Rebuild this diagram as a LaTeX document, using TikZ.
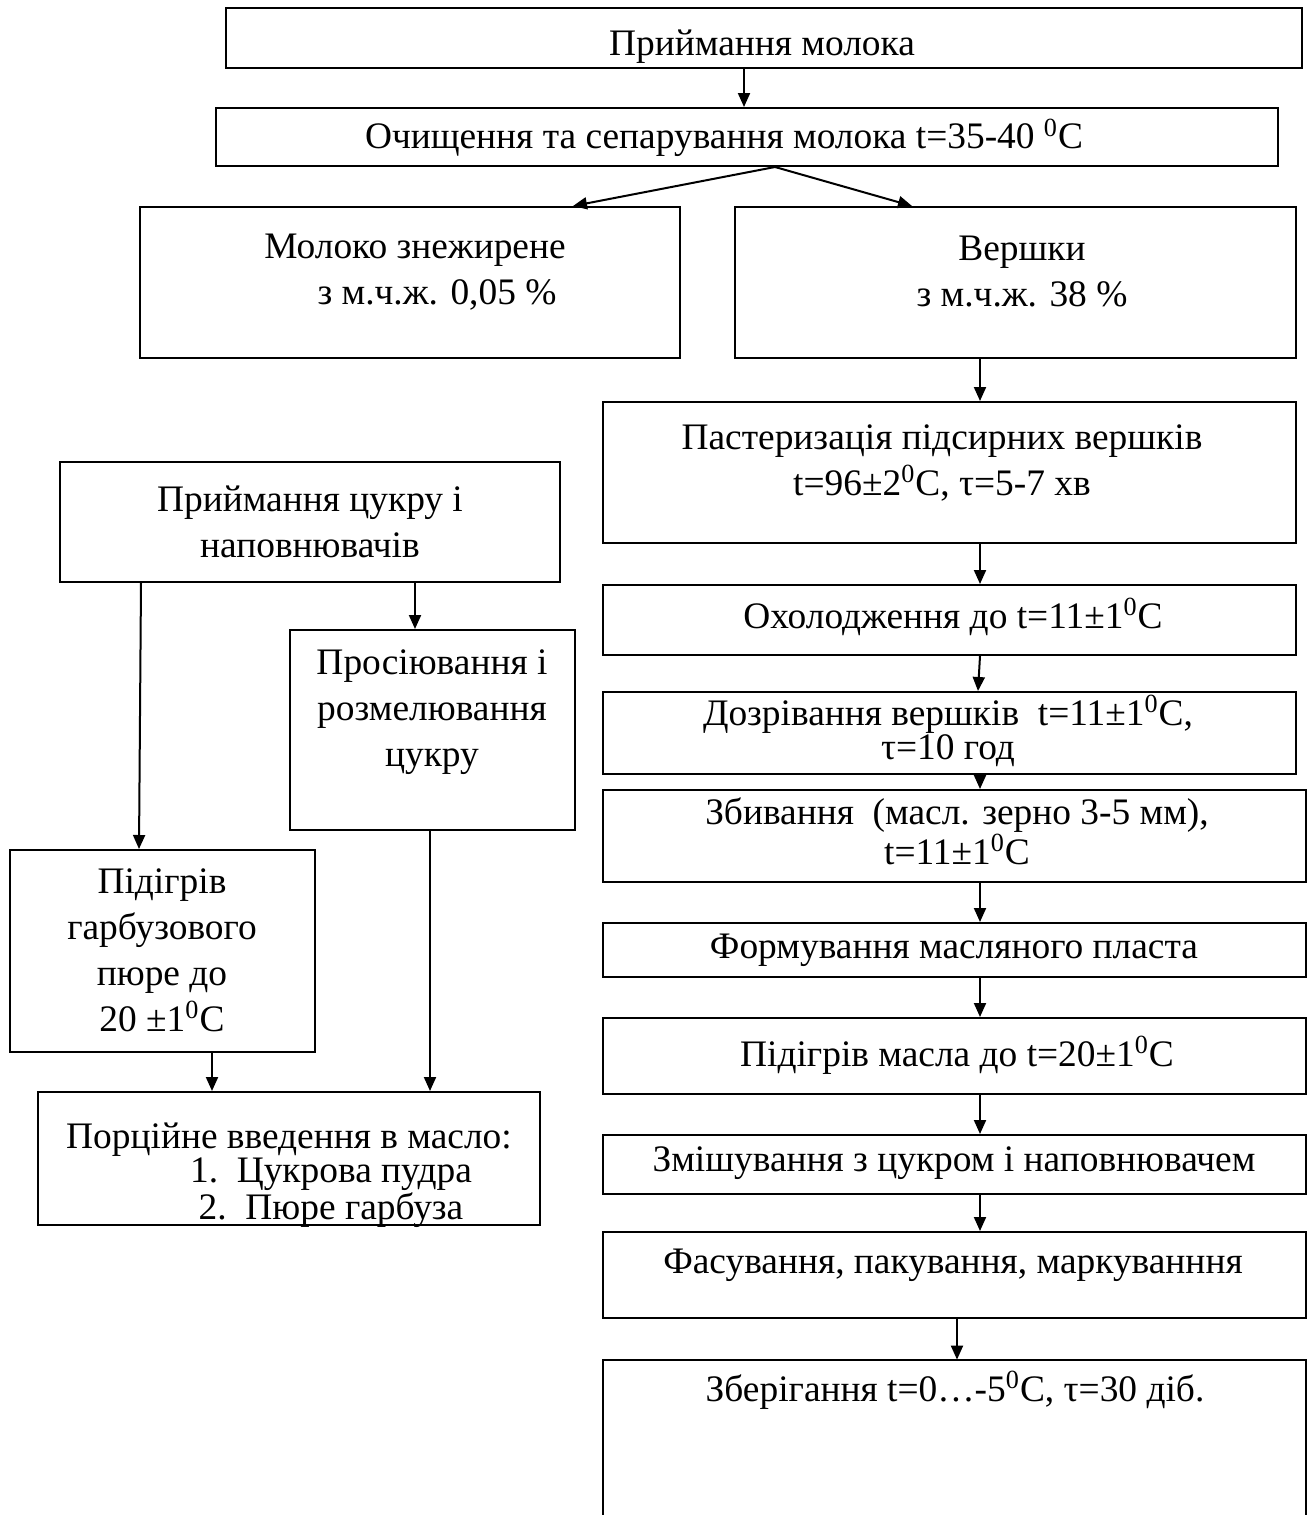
\documentclass[tikz,border=0pt]{standalone}
\usepackage{fontspec}
\setmainfont{Liberation Serif}
\usetikzlibrary{arrows.meta,fit}
\newcommand{\dg}{\textsuperscript{0}}
\begin{document}
\begin{tikzpicture}[x=0.5pt,y=-0.5pt,
  box/.style={draw,line width=1pt,inner sep=0pt,fit={#1}},
  openbox/.style={inner sep=0pt,fit={#1}},
  txt/.style={align=center,inner sep=0pt,font=\fontsize{18.7pt}{23pt}\selectfont},
  tight/.style={align=center,inner sep=0pt,font=\fontsize{18.7pt}{17pt}\selectfont},
  arr/.style={line width=1pt,-{Triangle[length=7pt,width=6pt]}}]
\useasboundingbox (0,0) rectangle (1316,1515);

% boxes
\node[box={(226,8) (1302,68)}] (b1) {};
\node[box={(216,108) (1278,166)}] (b2) {};
\node[box={(140,207) (680,358)}] (b3) {};
\node[box={(735,207) (1296,358)}] (b4) {};
\node[box={(603,402) (1296,543)}] (b5) {};
\node[box={(603,585) (1296,655)}] (b6) {};
\node[box={(603,692) (1296,774)}] (b7) {};
\node[box={(603,790) (1306,882)}] (b8) {};
\node[box={(603,923) (1306,977)}] (b9) {};
\node[box={(603,1018) (1306,1094)}] (b10) {};
\node[box={(603,1135) (1306,1194)}] (b11) {};
\node[box={(603,1232) (1306,1318)}] (b12) {};
\node[openbox={(603,1360) (1306,1530)}] (b13) {};
\draw[line width=1pt] (b13.south west) -- (b13.north west) -- (b13.north east) -- (b13.south east);
\node[box={(60,462) (560,582)}] (c1) {};
\node[box={(290,630) (575,830)}] (c2) {};
\node[box={(10,850) (315,1052)}] (c3) {};
\node[box={(38,1092) (540,1225)}] (c4) {};

% texts
\node[txt] (t1) at (762,47) {Приймання молока};
\node[txt] (t2) at (724,138) {Очищення та сепарування молока t=35-40 \dg С};
\node[txt] (t3) at (415,272) {Молоко знежирене\\\hspace*{22pt}з м.ч.ж. 0,05 \%};
\node[txt] (t4) at (1022,272) {Вершки\\з м.ч.ж. 38 \%};
\node[txt] (t5) at (942,463) {Пастеризація підсирних вершків\\t=96±2\dg С, τ=5-7 хв};
\node[txt] (t6) at (953,617) {Охолодження до t=11±1\dg С};
\node[tight] (t7) at (948,731) {Дозрівання вершків\ \ t=11±1\dg С,\\τ=10 год};
\node[tight] (t8) at (957,831) {Збивання\ \ (масл. зерно 3-5 мм),\\t=11±1\dg С};
\node[txt] (t9) at (954,950) {Формування масляного пласта};
\node[txt] (t10) at (957,1055) {Підігрів масла до t=20±1\dg С};
\node[txt] (t11) at (954,1163) {Змішування з цукром і наповнювачем};
\node[txt] (t12) at (953,1265) {Фасування, пакування, маркуванння};
\node[txt] (t13) at (955,1390) {Зберігання t=0…-5\dg С, τ=30 діб.};
\node[txt] (t14) at (310,522) {Приймання цукру і\\наповнювачів};
\node[txt] (t15) at (432,712) {Просіювання і\\розмелювання\\цукру};
\node[txt] (t16) at (162,950) {Підігрів\\гарбузового\\пюре до\\20 ±1\dg С};
\node[tight] (t17) at (289,1175) {Порційне введення в масло:\\\hspace*{42pt}1.\ \ Цукрова пудра\\\hspace*{42pt}2.\ \ Пюре гарбуза};

% arrows
\draw[arr] (744,0 |- b1.south) -- (744,0 |- b2.north);
\draw[arr] (775,0 |- b2.south) -- (573,0 |- b3.north);
\draw[arr] (775,0 |- b2.south) -- (912,0 |- b4.north);
\draw[arr] (980,0 |- b4.south) -- (980,0 |- b5.north);
\draw[arr] (980,0 |- b5.south) -- (980,0 |- b6.north);
\draw[arr] (980,0 |- b6.south) -- (978,0 |- b7.north);
\draw[arr] (980,0 |- b7.south) -- (980,0 |- b8.north);
\draw[arr] (980,0 |- b8.south) -- (980,0 |- b9.north);
\draw[arr] (980,0 |- b9.south) -- (980,0 |- b10.north);
\draw[arr] (980,0 |- b10.south) -- (980,0 |- b11.north);
\draw[arr] (980,0 |- b11.south) -- (980,0 |- b12.north);
\draw[arr] (957,0 |- b12.south) -- (957,0 |- b13.north);
\draw[arr] (415,0 |- c1.south) -- (415,0 |- c2.north);
\draw[arr] (141,0 |- c1.south) -- (139,0 |- c3.north);
\draw[arr] (212,0 |- c3.south) -- (212,0 |- c4.north);
\draw[arr] (430,0 |- c2.south) -- (430,0 |- c4.north);
\end{tikzpicture}
\end{document}
